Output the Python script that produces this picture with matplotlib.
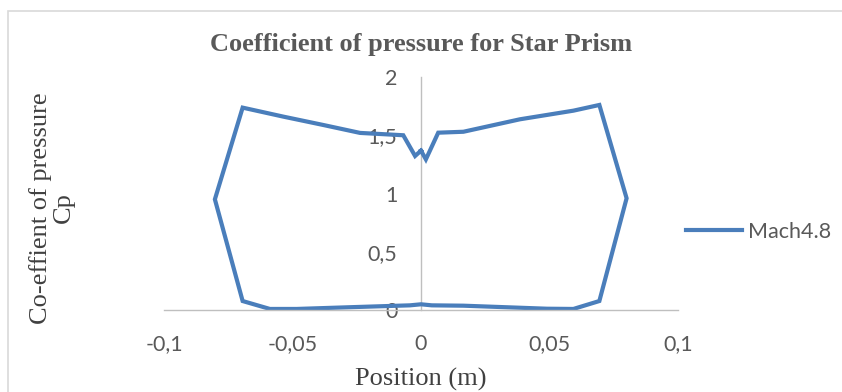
import matplotlib
matplotlib.use('Agg')
import matplotlib.pyplot as plt
from matplotlib.patches import Rectangle

# position along the prism surface (m) and pressure coefficient, traced round the section
position = [0.0000, -0.0023, -0.0069, -0.0237, -0.0380, -0.0536, -0.0694, -0.0802,
            -0.0694, -0.0588, -0.0484, -0.0260, -0.0043, 0.0000, 0.0042, 0.0165,
            0.0490, 0.0593, 0.0694, 0.0800, 0.0694, 0.0593, 0.0385, 0.0165,
            0.0067, 0.0019, 0.0000]
cp = [1.368, 1.322, 1.500, 1.520, 1.588, 1.660, 1.737, 0.950,
      0.077, 0.009, 0.009, 0.025, 0.040, 0.049, 0.040, 0.037,
      0.011, 0.009, 0.077, 0.959, 1.760, 1.711, 1.637, 1.530,
      1.522, 1.293, 1.368]
series_name = 'Mach4.8'

W, H = 842, 392
fig = plt.figure(figsize=(W / 100, H / 100), dpi=100)
fig.patch.set_facecolor('white')

# chart area border
fig.patches.append(Rectangle((7.5 / W, -0.1), 1.2, 1 - 11 / H + 0.1,
                             transform=fig.transFigure, fill=False,
                             edgecolor='#d9d9d9', lw=1.2))

ax = fig.add_axes([164 / W, 1 - 310 / H, (678 - 164) / W, (310 - 77) / H])
ax.plot(position, cp, color='#4a7ebb', lw=3.0, solid_joinstyle='miter',
        label=series_name)

ax.set_xlim(-0.1, 0.1)
ax.set_ylim(0, 2)
ax.set_xticks([-0.1, -0.05, 0, 0.05, 0.1])
ax.set_xticklabels(['-0,1', '-0,05', '0', '0,05', '0,1'])
ax.set_yticks([0, 0.5, 1, 1.5, 2])
ax.set_yticklabels(['0', '0,5', '1', '1,5', '2'])

for s in ['top', 'right']:
    ax.spines[s].set_visible(False)
ax.spines['left'].set_position(('data', 0))
for s in ['left', 'bottom']:
    ax.spines[s].set_color('#bfbfbf')
    ax.spines[s].set_linewidth(1.0)
ax.spines['left'].set_zorder(0)

ax.tick_params(axis='both', length=0)
ax.tick_params(axis='x', pad=17)
ax.tick_params(axis='y', pad=17)
for lab in ax.get_xticklabels() + ax.get_yticklabels():
    lab.set_fontfamily('Lato')
    lab.set_fontsize(15.5)
    lab.set_color('#595959')

fig.text(421 / W, 1 - 44 / H, 'Coefficient of pressure for Star Prism',
         ha='center', va='center', family='Liberation Serif',
         weight='bold', size=19, color='#595959')
fig.text(421 / W, 1 - 379 / H, 'Position (m)', ha='center', va='center',
         family='Liberation Serif', size=19, color='#404040')
fig.text(52 / W, 1 - 208 / H, 'Co-effient of pressure\nCp', ha='center',
         va='center', rotation=90, family='Liberation Serif', size=19,
         color='#404040', linespacing=1.1, multialignment='center')

leg = ax.legend(loc='center left', bbox_to_anchor=(667 / W, 1 - 232 / H),
                bbox_transform=fig.transFigure, frameon=False,
                handlelength=2.6, handletextpad=0.25,
                prop={'family': 'Lato', 'size': 15.5})
for t in leg.get_texts():
    t.set_color('#595959')

fig.savefig('out.png', dpi=100)
